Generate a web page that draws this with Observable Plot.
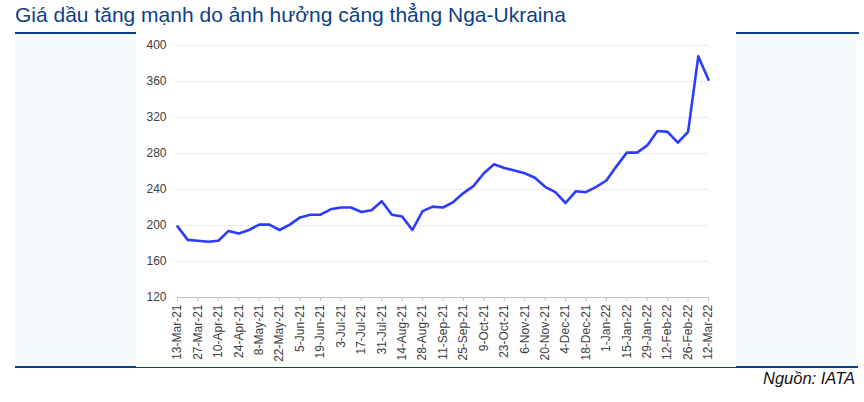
<!DOCTYPE html>
<html>
<head>
<meta charset="utf-8">
<script src="https://cdn.jsdelivr.net/npm/d3@7"></script>
<script src="https://cdn.jsdelivr.net/npm/@observablehq/plot@0.6"></script>
<style>
  html, body { margin: 0; padding: 0; background: #ffffff; }
  body { width: 864px; height: 402px; position: relative; overflow: hidden; font-family: "Liberation Sans", Arial, sans-serif; }
  .abs { position: absolute; }
  #title { left: 15px; top: 2px; font-size: 21px; color: #0d3f87; white-space: nowrap; line-height: 25px; }
  .panel { background: #f5fafc; top: 34px; height: 333px; }
  .bar { background: #0b3f86; }
  #source { right: 9px; top: 368px; font-size: 16.5px; font-style: italic; color: #111; line-height: 20px; }
  #chart { left: 136px; top: 30px; width: 600px; height: 337px; background: #fff; }
</style>
</head>
<body>
<div id="title" class="abs">Giá dầu tăng mạnh do ảnh hưởng căng thẳng Nga-Ukraina</div>
<div class="abs panel" style="left:15px;width:121px;"></div>
<div class="abs panel" style="left:736px;width:120px;"></div>
<div class="abs bar" style="left:15px;top:32px;width:121px;height:2px;"></div>
<div class="abs bar" style="left:736px;top:32px;width:123px;height:2px;"></div>
<div class="abs bar" style="left:15px;top:367px;width:843px;height:1px;"></div>
<div class="abs bar" style="left:15px;top:366px;width:121px;height:2px;"></div>
<div class="abs bar" style="left:736px;top:366px;width:122px;height:2px;"></div>
<div id="chart" class="abs"></div>
<div id="source" class="abs">Nguồn: IATA</div>
<script>
// Weekly dates (13-Mar-21 .. 12-Mar-22)
const weeks = [
  "2021-03-13","2021-03-20","2021-03-27","2021-04-03","2021-04-10","2021-04-17","2021-04-24","2021-05-01",
  "2021-05-08","2021-05-15","2021-05-22","2021-05-29","2021-06-05","2021-06-12","2021-06-19","2021-06-26",
  "2021-07-03","2021-07-10","2021-07-17","2021-07-24","2021-07-31","2021-08-07","2021-08-14","2021-08-21",
  "2021-08-28","2021-09-04","2021-09-11","2021-09-18","2021-09-25","2021-10-02","2021-10-09","2021-10-16",
  "2021-10-23","2021-10-30","2021-11-06","2021-11-13","2021-11-20","2021-11-27","2021-12-04","2021-12-11",
  "2021-12-18","2021-12-25","2022-01-01","2022-01-08","2022-01-15","2022-01-22","2022-01-29","2022-02-05",
  "2022-02-12","2022-02-19","2022-02-26","2022-03-05","2022-03-12"
];
const prices = [
  199, 184, 183, 182, 183, 194, 191, 195, 201, 201, 195, 201, 209, 212, 212, 218,
  220, 220, 215, 217, 227, 212, 210, 195, 216, 221, 220, 226, 236, 244, 258, 268,
  264, 261, 258, 253, 243, 237, 225, 238, 237, 243, 250, 266, 281, 281, 289, 305,
  304, 292, 304, 388, 362
];
const tickLabels = [
  "13-Mar-21","27-Mar-21","10-Apr-21","24-Apr-21","8-May-21","22-May-21","5-Jun-21","19-Jun-21",
  "3-Jul-21","17-Jul-21","31-Jul-21","14-Aug-21","28-Aug-21","11-Sep-21","25-Sep-21","9-Oct-21",
  "23-Oct-21","6-Nov-21","20-Nov-21","4-Dec-21","18-Dec-21","1-Jan-22","15-Jan-22","29-Jan-22",
  "12-Feb-22","26-Feb-22","12-Mar-22"
];
const yTicks = [120, 160, 200, 240, 280, 320, 360, 400];

const parseIso = d3.utcParse("%Y-%m-%d");
const parseLabel = d3.utcParse("%d-%b-%y");
const fmtLabel = d3.utcFormat("%-d-%b-%y");
const data = weeks.map((w, i) => ({date: parseIso(w), value: prices[i]}));
const tickDates = tickLabels.map(parseLabel);

const chart = Plot.plot({
  width: 600,
  height: 337,
  marginLeft: 41,
  marginRight: 28,
  marginTop: 15,
  marginBottom: 70,
  style: {fontFamily: "'Liberation Sans', Arial, sans-serif", fontSize: "12px", color: "#404040", background: "transparent"},
  x: {type: "utc", domain: [tickDates[0], tickDates[tickDates.length - 1]]},
  y: {domain: [120, 400]},
  marks: [
    Plot.gridY(yTicks, {stroke: "#ececec", strokeOpacity: 1, strokeWidth: 1}),
    Plot.ruleY([120], {stroke: "#bfbfbf", strokeWidth: 1}),
    Plot.axisY(yTicks, {tickSize: 0, tickPadding: 11, fontSize: 12, fill: "#404040", label: null}),
    Plot.axisX(tickDates, {tickFormat: fmtLabel, tickRotate: -90, tickSize: 4, tickPadding: 3, stroke: "#bfbfbf", fontSize: 12, fill: "#404040", label: null}),
    Plot.lineY(data, {x: "date", y: "value", stroke: "#2b3cff", strokeWidth: 2.6, strokeLinejoin: "round"})
  ]
});
document.getElementById("chart").appendChild(chart);
</script>
</body>
</html>
